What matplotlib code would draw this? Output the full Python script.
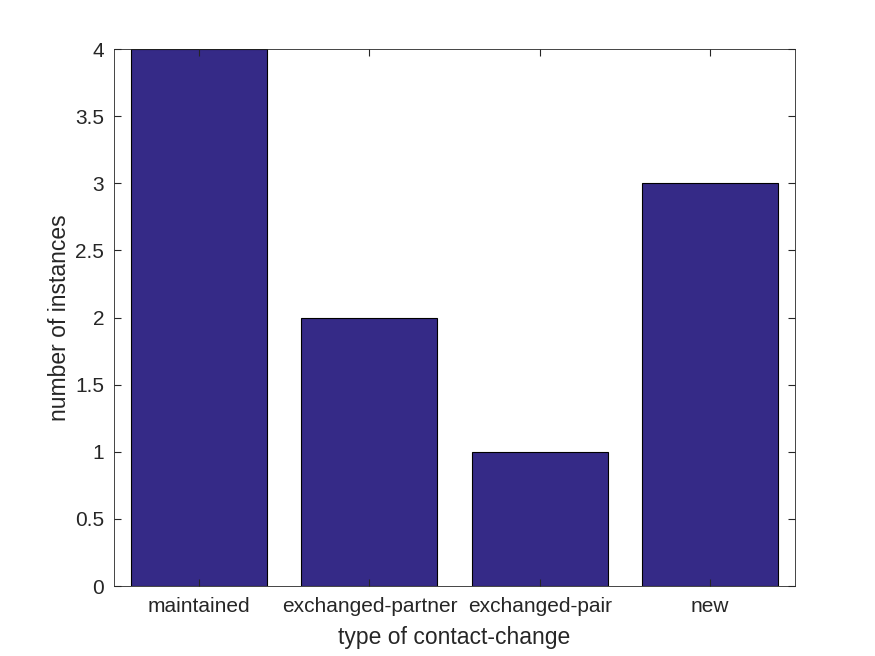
import matplotlib
matplotlib.use('Agg')
import matplotlib.pyplot as plt

# data
categories = ['maintained', 'exchanged-partner', 'exchanged-pair', 'new']
counts = [4, 2, 1, 3]

plt.rcParams['font.family'] = ['Liberation Sans', 'DejaVu Sans']

fig = plt.figure(figsize=(8.75, 6.56), dpi=100)
ax = fig.add_axes([0.1303, 0.1067, 0.7783, 0.8186])

pos = list(range(1, len(categories) + 1))
ax.bar(pos, counts, width=0.8, color='#352a87', edgecolor='black', linewidth=0.8)

ax.set_xlim(0.5, 4.5)
ax.set_ylim(0, 4)
ax.set_xticks(pos)
ax.set_xticklabels(categories)
ax.set_yticks([0, 0.5, 1, 1.5, 2, 2.5, 3, 3.5, 4])
ax.set_yticklabels(['0', '0.5', '1', '1.5', '2', '2.5', '3', '3.5', '4'])
ax.tick_params(direction='in', top=True, right=True, labelsize=15, colors='#262626', length=5)
ax.tick_params(axis='x', pad=8)
ax.tick_params(axis='y', pad=7)
for s in ax.spines.values():
    s.set_color('#262626')
    s.set_linewidth(0.6)

ax.set_xlabel('type of contact-change', fontsize=16.5, color='#262626', labelpad=7)
ax.set_ylabel('number of instances', fontsize=16.5, color='#262626', labelpad=3)

fig.savefig('out.png', dpi=100)
